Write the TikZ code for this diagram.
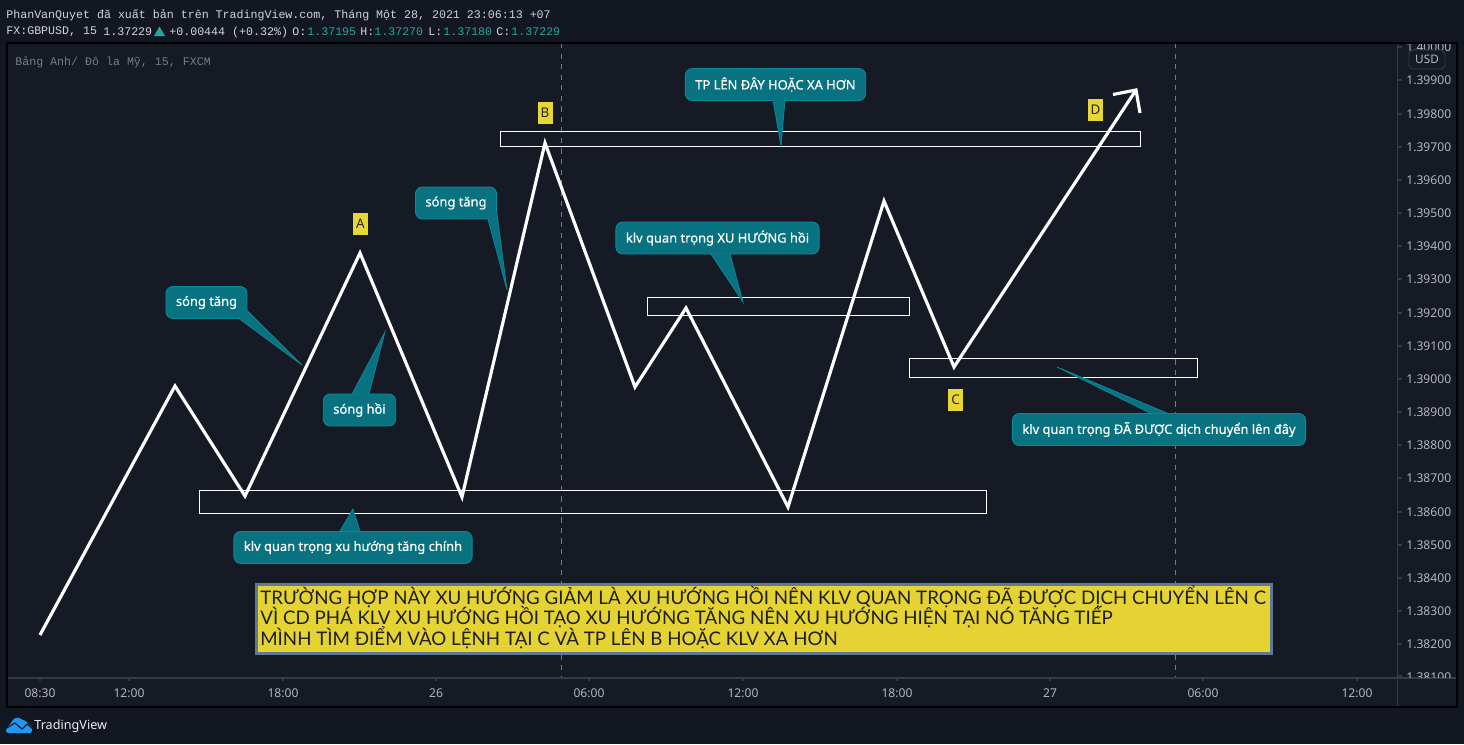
\documentclass[tikz,border=0pt]{standalone}
\usepackage{fontspec}
\setmainfont{Noto Sans}
\newfontfamily\monofam{Liberation Mono}
\newfontfamily\notefam{Lato}
\newfontfamily\callfam[FakeBold=0.5]{Noto Sans}
\usetikzlibrary{calc}
\definecolor{pagebg}{HTML}{131722}
\definecolor{panebg}{HTML}{161A25}
\definecolor{axisgray}{HTML}{363A45}
\definecolor{axistext}{HTML}{B2B5BE}
\definecolor{headtext}{HTML}{D1D4DC}
\definecolor{mutetext}{HTML}{787B86}
\definecolor{upgreen}{HTML}{26A69A}
\definecolor{sessionblue}{HTML}{4F82CC}
\definecolor{calloutfill}{HTML}{087280}
\definecolor{calloutline}{HTML}{0A8B9C}
\definecolor{tagyellow}{HTML}{E8D636}
\definecolor{notefill}{HTML}{ECD934}
\definecolor{noteborder}{HTML}{5F7A96}
\definecolor{logoblue}{HTML}{2196F3}
\newcommand{\calltail}[3]{\fill[calloutfill] #1 -- #2 -- #3 -- cycle; \draw[calloutline,line width=0.4pt] #1 -- #2 -- #3;}
\tikzset{
  x=0.02cm,y=-0.02cm,
  zone/.style={draw=white,line width=0.5pt},
  wave/.style={draw=white,line width=1.8pt,line join=miter},
  callout/.style={draw=calloutline,fill=calloutfill,line width=0.5pt,rounded corners=0.14cm,text=white,
    font=\callfam\fontsize{7.35}{9}\selectfont,inner xsep=0.2cm,inner ysep=0pt,minimum height=0.64cm},
  tag/.style={fill=tagyellow,text=black!85,font=\fontsize{7.6}{9}\selectfont,inner sep=0pt,minimum width=0.3cm,minimum height=0.44cm},
  headline/.style={anchor=west,inner sep=0pt,text=headtext,font=\monofam\fontsize{6.62}{8}\selectfont},
  pricelabel/.style={anchor=west,inner sep=0pt,text=axistext,font=\fontsize{6.9}{8}\selectfont},
  timelabel/.style={inner sep=0pt,text=axistext,font=\fontsize{6.9}{8}\selectfont},
  noteline/.style={anchor=base west,inner sep=0pt,text=black!88,font=\notefam\fontsize{10.65}{12}\selectfont},
}
\begin{document}
\begin{tikzpicture}
  \useasboundingbox (0,0) rectangle (1464,744);
  \fill[pagebg] (0,0) rectangle (1464,744);
  \fill[panebg] (7,43) rectangle (1457,707);
  % session breaks
  \draw[sessionblue,dashed,line width=0.45pt] (561,43)--(561,678);
  \draw[sessionblue,dashed,line width=0.45pt] (1175,43)--(1175,678);
  % axes
  \draw[axisgray,line width=0.6pt] (7,678)--(1457,678);
  \draw[axisgray,line width=0.6pt] (1397.5,43)--(1397.5,707);
  \draw[black,line width=0.6pt] (7,43) rectangle (1457,707);
  \foreach \py/\pval in {80/1.39900,114/1.39800,147/1.39700,180/1.39600,213/1.39500,246/1.39400,279/1.39300,313/1.39200,346/1.39100,379/1.39000,412/1.38900,445/1.38800,478/1.38700,512/1.38600,545/1.38500,578/1.38400,611/1.38300,644/1.38200}{
    \draw[axisgray,line width=0.6pt] (1397.5,\py)--(1402,\py);
    \node[pricelabel] (price\py) at (1406,\py) {\pval};
  }
  \begin{scope}
    \clip (1398,44) rectangle (1456,677);
    \draw[axisgray,line width=0.6pt] (1397.5,47)--(1402,47);
    \node[pricelabel] (pricetop) at (1406,47) {1.40000};
    \draw[axisgray,line width=0.6pt] (1397.5,676)--(1402,676);
    \node[pricelabel] (pricebot) at (1406,677) {1.38100};
  \end{scope}
  \foreach \tx/\tval in {40/08:30,129/12:00,283/18:00,436/26,589/06:00,743/12:00,897/18:00,1050/27,1203/06:00,1357/12:00}{
    \draw[axisgray,line width=0.6pt] (\tx,678)--(\tx,681);
    \node[timelabel] (time\tx) at (\tx,693) {\tval};
  }
  \node[draw=axisgray,fill=panebg,rounded corners=0.08cm,line width=0.5pt,text=axistext,inner sep=0pt,
    minimum width=0.72cm,minimum height=0.38cm,font=\fontsize{6.7}{8}\selectfont] (usd) at (1427,59.5) {USD};
  % header
  \node[headline] (title) at (6,15) {PhanVanQuyet đã xuất bản trên TradingView.com, Tháng Một 28, 2021 23:06:13 +07};
  \node[headline] (symbol) at (6,32) {FX:GBPUSD, 15};
  \node[headline] (last) at (103,32) {1.37229};
  \fill[upgreen] (154,36)--(159.5,26.5)--(165,36)--cycle;
  \node[headline] (change) at (169,32) {+0.00444 (+0.32\%)};
  \foreach \lx/\lab/\vx/\val in {292/O:/307/1.37195,360/H:/374/1.37270,428/L:/443/1.37180,496/C:/511/1.37229}{
    \node[headline] (lab\lx) at (\lx,32) {\lab};
    \node[headline,text=upgreen] (val\lx) at (\vx,32) {\val};
  }
  \node[headline,text=mutetext] (market) at (15,62.5) {Bảng Anh/ Đô la Mỹ, 15, FXCM};
  % zones
  \draw[zone] (199.5,490.5) rectangle (986,513);
  \draw[zone] (500.5,131.5) rectangle (1140,146);
  \draw[zone] (647.5,297.5) rectangle (909,315);
  \draw[zone] (909,358.5) rectangle (1197,377);
  % price path
  \draw[wave] (40,635)--(175,386)--(245,496)--(360,253)--(462,497)--(545,143)--(635,387)--(686,308)--(788,507)--(884,201)--(954,367)--(1136,90);
  \draw[wave] (1113,94.5)--(1136,90)--(1140,113);
  % letters
  \node[tag] (tagA) at (360.5,224) {A};
  \node[tag] (tagB) at (545,113) {B};
  \node[tag] (tagC) at (955.5,399.5) {C};
  \node[tag] (tagD) at (1095.5,110) {D};
  % callouts
  \coordinate (tipwaveone) at (302,365);
  \coordinate (tipback) at (385,332);
  \coordinate (tipwavetwo) at (507,290);
  \coordinate (tiptp) at (781,146);
  \coordinate (tipretrace) at (743,302);
  \coordinate (tipmain) at (353,509);
  \coordinate (tipmoved) at (1057,367);
  \node[callout] (waveone) at (206.5,302.5) {sóng tăng};
  \calltail{($(waveone.south east)+(-8,0)$)}{(tipwaveone)}{($(waveone.south east)+(0,-8)$)}
  \node[callout] (back) at (359.5,410) {sóng hồi};
  \calltail{(352,394)}{(tipback)}{(369,394)}
  \node[callout] (wavetwo) at (456,203) {sóng tăng};
  \calltail{($(wavetwo.south east)+(-9,0)$)}{(tipwavetwo)}{($(wavetwo.south east)+(0,-6)$)}
  \node[callout] (tpzone) at (775.5,84.5) {TP LÊN ĐÂY HOẶC XA HƠN};
  \calltail{(773,100)}{(tiptp)}{(785,100)}
  \node[callout] (retrace) at (717.5,238) {klv quan trọng XU HƯỚNG hồi};
  \calltail{(711,254)}{(tipretrace)}{(730,254)}
  \node[callout] (mainzone) at (353,547.5) {klv quan trọng xu hướng tăng chính};
  \calltail{(340,531)}{(tipmain)}{(360,531)}
  \node[callout] (moved) at (1159,429.5) {klv quan trọng ĐÃ ĐƯỢC dịch chuyển lên đây};
  \calltail{(1150,413)}{(tipmoved)}{(1167,413)}
  % note
  \node[draw=noteborder,fill=notefill,line width=1.5pt,fill opacity=0.97,draw opacity=1,anchor=north west,
    inner sep=0pt,minimum width=1015*0.02cm,minimum height=69*0.02cm] (note) at (255,583) {};
  \node[noteline] (noteone) at (260,604) {TRƯỜNG HỢP NÀY XU HƯỚNG GIẢM LÀ XU HƯỚNG HỒI NÊN KLV QUAN TRỌNG ĐÃ ĐƯỢC DỊCH CHUYỂN LÊN C};
  \node[noteline] (notetwo) at (260,624.5) {VÌ CD PHÁ KLV XU HƯỚNG HỒI TẠO XU HƯỚNG TĂNG NÊN XU HƯỚNG HIỆN TẠI NÓ TĂNG TIẾP};
  \node[noteline] (notethree) at (260,645) {MÌNH TÌM ĐIỂM VÀO LỆNH TẠI C VÀ TP LÊN B HOẶC KLV XA HƠN};
  % footer
  \fill[logoblue] (6,731) .. controls (6,727) and (10,725) .. (11,723) .. controls (13,718) and (18,716) .. (21,719) .. controls (23,721) and (27,720) .. (28,724) .. controls (31,725) and (33,728) .. (32,731) .. controls (32,733) and (30,733) .. (29,733) -- (9,733) .. controls (7,733) and (6,732) .. (6,731) -- cycle;
  \draw[pagebg,line width=0.6pt] (5,729)--(15,723)--(22,729)--(27,724)--(33,729);
  \node[anchor=west,inner sep=0pt,text=white!92!black,font=\fontsize{7.2}{9}\selectfont] (brand) at (34,726) {TradingView};
\end{tikzpicture}
\end{document}
